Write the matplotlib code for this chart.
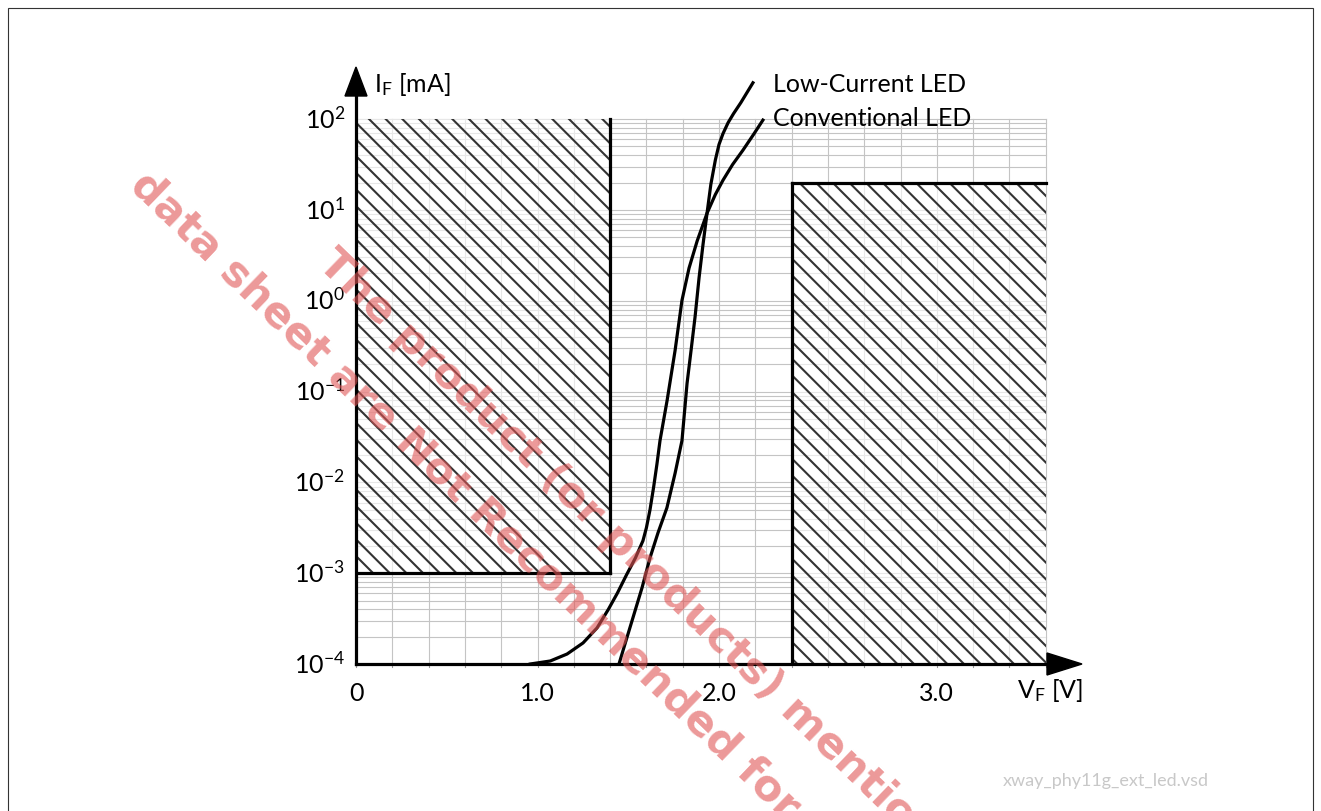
import numpy as np
import matplotlib.pyplot as plt
from matplotlib.patches import Rectangle, Polygon

plt.rcParams['font.family'] = ['Lato', 'DejaVu Sans']
plt.rcParams['mathtext.fontset'] = 'custom'
plt.rcParams['mathtext.rm'] = 'Lato'
plt.rcParams['hatch.linewidth'] = 1.5

# forward voltage [V] / log10 of forward current [mA]
conv_v = [0.96, 1.07, 1.163, 1.251, 1.328, 1.39, 1.44, 1.49, 1.54, 1.581, 1.60, 1.62, 1.64, 1.658,
          1.675, 1.714, 1.758, 1.796, 1.835, 1.88, 1.934, 1.98, 2.022, 2.075, 2.132, 2.19, 2.242]
conv_logi = [-4.0, -3.967, -3.89, -3.768, -3.603, -3.40, -3.22, -3.02, -2.83, -2.643, -2.50, -2.30,
             -2.05, -1.80, -1.54, -1.099, -0.548, 0.004, 0.36, 0.66, 0.963, 1.17, 1.327, 1.5, 1.658,
             1.83, 1.989]

low_v = [1.449, 1.482, 1.526, 1.576, 1.62, 1.664, 1.713, 1.758, 1.796, 1.824, 1.846, 1.868,
         1.89, 1.912, 1.934, 1.955, 1.98, 2.0, 2.022, 2.05, 2.08, 2.12, 2.187]
low_logi = [-4.0, -3.78, -3.49, -3.16, -2.83, -2.555, -2.28, -1.90, -1.54, -0.91, -0.548, -0.18,
            0.25, 0.62, 0.963, 1.28, 1.55, 1.72, 1.84, 1.96, 2.06, 2.18, 2.40]

# forbidden regions: (v0, v1, i_low, i_high)
box_low = (0.0, 1.4, 1e-3, 1e2)
box_high = (2.4, 3.8, 1e-4, 20)

xtick_pos = [0, 1.0, 2.0, 3.2]
xtick_lbl = ['0', '1.0', '2.0', '3.0']
ytick_exp = [2, 1, 0, -1, -2, -3, -4]

W, H = 1321, 811
fig = plt.figure(figsize=(W / 100, H / 100), dpi=100)
ax = fig.add_axes([356 / W, 1 - 664 / H, 734 / W, 604 / H])
ax.set_yscale('log')
ax.set_xlim(0, 734 / 181.5)
ax.set_ylim(1e-4, 10 ** (2 + 59 / 90.67))
ax.axis('off')

# grid
gc = '#c4c4c4'
for v in np.arange(0, 3.81, 0.2):
    ax.plot([v, v], [1e-4, 1e2], color=gc, lw=0.8, zorder=1)
    ax.plot([v, v], [1e-4, 10 ** -4.035], color='#999999', lw=0.8, zorder=1, clip_on=False)
for e in range(-4, 2):
    for m in range(1, 10):
        ax.plot([0, 3.8], [m * 10.0 ** e] * 2, color=gc, lw=0.8, zorder=1)
ax.plot([0, 3.8], [1e2, 1e2], color=gc, lw=0.8, zorder=1)

# hatched regions
for v0, v1, i0, i1 in (box_low, box_high):
    ax.add_patch(Rectangle((v0, i0), v1 - v0, i1 - i0, facecolor='white', alpha=0.6,
                           edgecolor='none', zorder=2))
    ax.add_patch(Rectangle((v0, i0), v1 - v0, i1 - i0, facecolor='none', hatch='\\\\',
                           edgecolor='#333333', lw=0, zorder=3))

lw = 2.3
ax.plot([box_low[1], box_low[1]], [box_low[2], box_low[3]], color='black', lw=lw, zorder=4)
ax.plot([box_low[0], box_low[1]], [box_low[2], box_low[2]], color='black', lw=lw, zorder=4)
ax.plot([box_high[0], box_high[0]], [box_high[2], box_high[3]], color='black', lw=lw, zorder=4)
ax.plot([box_high[0], box_high[1]], [box_high[3], box_high[3]], color='black', lw=lw, zorder=4)

# curves
ax.plot(conv_v, 10.0 ** np.array(conv_logi), color='black', lw=lw, zorder=5, clip_on=False,
        solid_joinstyle='round')
ax.plot(low_v, 10.0 ** np.array(low_logi), color='black', lw=lw, zorder=5, clip_on=False,
        solid_joinstyle='round')

# axes with arrows (in pixel space)
def px(x, y):
    return x / W, 1 - y / H

fig.add_artist(plt.Line2D([356 / W, 356 / W], [1 - 664 / H, 1 - 92 / H], color='black', lw=lw))
fig.add_artist(plt.Line2D([356 / W, 1050 / W], [1 - 664 / H, 1 - 664 / H], color='black', lw=lw))
fig.add_artist(Polygon([px(356, 67), px(345, 96), px(367, 96)], closed=True,
                       facecolor='black', edgecolor='black', transform=fig.transFigure))
fig.add_artist(Polygon([px(1082, 664), px(1047, 653), px(1047, 675)], closed=True,
                       facecolor='black', edgecolor='black', transform=fig.transFigure))

fs = 18
for e in ytick_exp:
    ax.text(-0.06, 10.0 ** e, r'$\mathregular{10^{%d}}$' % e, ha='right', va='center', fontsize=fs)
for p, l in zip(xtick_pos, xtick_lbl):
    ax.text(p, 10 ** -4.33, l, ha='center', va='center', fontsize=fs)

fig.text(*px(374, 84), r'$\mathregular{I_F}$ [mA]', ha='left', va='center', fontsize=fs)
fig.text(*px(1017, 691), r'$\mathregular{V_F}$ [V]', ha='left', va='center', fontsize=fs)
fig.text(*px(773, 84), 'Low-Current LED', ha='left', va='center', fontsize=fs)
fig.text(*px(773, 119), 'Conventional LED', ha='left', va='center', fontsize=fs)
fig.text(*px(1003, 781), 'xway_phy11g_ext_led.vsd', ha='left', va='center', fontsize=13, color='#c8c8c8')

# frame
fig.add_artist(Rectangle(px(8, 830), (1313 - 8) / W, (830 - 8) / H, transform=fig.transFigure,
                         facecolor='none', edgecolor='#333333', lw=0.8))

# watermark
wm = dict(rotation=-44, rotation_mode='anchor', ha='left', va='baseline', fontsize=31,
          fontweight='bold', family='DejaVu Sans', color='#e05555', alpha=0.6)
fig.text(*px(128, 188), 'data sheet are Not Recommended for New Designs', **wm)
fig.text(*px(316, 266), 'The product (or products) mentioned in this', **wm)

fig.savefig('out.png', dpi=100)
